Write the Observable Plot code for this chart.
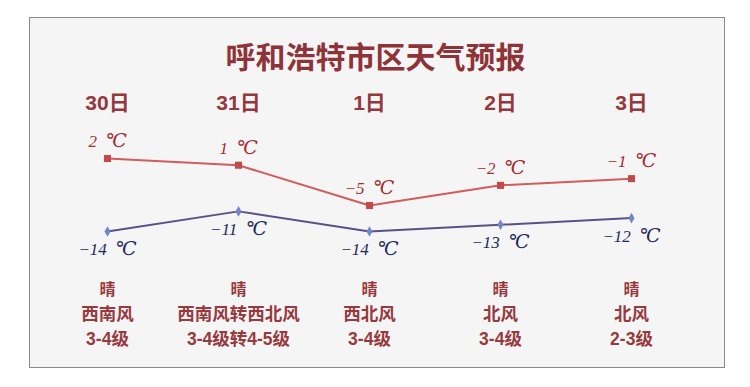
<!DOCTYPE html>
<html>
<head>
<meta charset="utf-8">
<script src="https://cdn.jsdelivr.net/npm/d3@7"></script>
<script src="https://cdn.jsdelivr.net/npm/@observablehq/plot@0.6"></script>
<style>
  html, body { margin: 0; padding: 0; background: #ffffff; }
  #wrap { position: relative; width: 750px; height: 387px; overflow: hidden; }
  #box { position: absolute; left: 29px; top: 17px; width: 694px; height: 349px;
         background: #f5f5f6; border: 1px solid #8a8a8a; }
  #chart { position: absolute; left: 0; top: 0; }
  .deg { font-family: 'DejaVu Serif', serif; font-style: italic; font-size: 19px; }
</style>
</head>
<body>
<div id="wrap"><div id="box"></div><div id="chart"></div></div>
<script>
const title = "呼和浩特市区天气预报";
const days = ["30日", "31日", "1日", "2日", "3日"];
const highs = [2, 1, -5, -2, -1];
const lows = [-14, -11, -14, -13, -12];
const weather = ["晴", "晴", "晴", "晴", "晴"];
const winds = ["西南风", "西南风转西北风", "西北风", "北风", "北风"];
const levels = ["3-4级", "3-4级转4-5级", "3-4级", "3-4级", "2-3级"];
const unit = "℃";

const highData = days.map((d, i) => ({day: d, t: highs[i]}));
const lowData = days.map((d, i) => ({day: d, t: lows[i]}));
const info = days.map((d, i) => ({day: d, w: weather[i], wind: winds[i], lvl: levels[i]}));

const fmt = v => (v < 0 ? "\u2212" + Math.abs(v) : String(v)) + "\u2002" + unit;
const lowShift = -34.4;
const cjk = "'Liberation Sans', 'Noto Sans CJK SC', sans-serif";
const serif = "'Liberation Serif', 'DejaVu Serif', serif";
const red = "#963a3e";

const chart = Plot.plot({
  width: 750,
  height: 387,
  margin: 0,
  style: {background: "transparent", overflow: "visible"},
  x: {type: "point", domain: days, range: [105, 632], padding: 0, axis: null},
  y: {domain: [-5, 2], range: [205, 158], axis: null},
  marks: [
    Plot.text([title], {frameAnchor: "top", dy: 58, lineAnchor: "middle", text: d => d,
      fontSize: 30, fontWeight: "bold", fill: "#8e3337", fontFamily: cjk}),
    Plot.text(days, {x: d => d, text: d => d, frameAnchor: "top", dy: 103, lineAnchor: "middle",
      fontSize: 21, fontWeight: "bold", fill: "#94383c", fontFamily: cjk}),
    Plot.line(highData, {x: "day", y: "t", stroke: "#d25c5c", strokeWidth: 2}),
    Plot.dot(highData, {x: "day", y: "t", symbol: "square", r: 4, fill: "#c24a4a", stroke: "none"}),
    Plot.text(highData, {x: "day", y: "t", text: d => fmt(d.t), dy: -17, lineAnchor: "middle",
      fontSize: 17, fontStyle: "italic", fill: "#a52b2e", fontFamily: serif, className: "temp"}),
    Plot.line(lowData, {x: "day", y: "t", dy: lowShift, stroke: "#5a5088", strokeWidth: 2}),
    Plot.dot(lowData, {x: "day", y: "t", dy: lowShift, symbol: "diamond", r: 3.2, fill: "#7286c6", stroke: "none"}),
    Plot.text(lowData, {x: "day", y: "t", text: d => fmt(d.t), dy: lowShift + 18, lineAnchor: "middle",
      fontSize: 17, fontStyle: "italic", fill: "#1d2a5a", fontFamily: serif, className: "temp"}),
    Plot.text(info, {x: "day", text: "w", frameAnchor: "top", dy: 289, lineAnchor: "middle",
      fontSize: 16, fontWeight: "bold", fill: red, fontFamily: cjk}),
    Plot.text(info, {x: "day", text: "wind", frameAnchor: "top", dy: 314, lineAnchor: "middle",
      fontSize: 17.5, fontWeight: "bold", fill: red, fontFamily: cjk}),
    Plot.text(info, {x: "day", text: "lvl", frameAnchor: "top", dy: 339, lineAnchor: "middle",
      fontSize: 17.5, fontWeight: "bold", fill: red, fontFamily: cjk})
  ]
});
// render the degree sign in a larger glyph
d3.select(chart).selectAll("g.temp text").each(function() {
  const s = this.textContent;
  const i = s.lastIndexOf(unit);
  if (i < 0) return;
  const t = d3.select(this);
  t.text(null);
  t.append("tspan").text(s.slice(0, i));
  t.append("tspan").attr("class", "deg").text(unit);
});
document.getElementById("chart").appendChild(chart);
</script>
</body>
</html>
